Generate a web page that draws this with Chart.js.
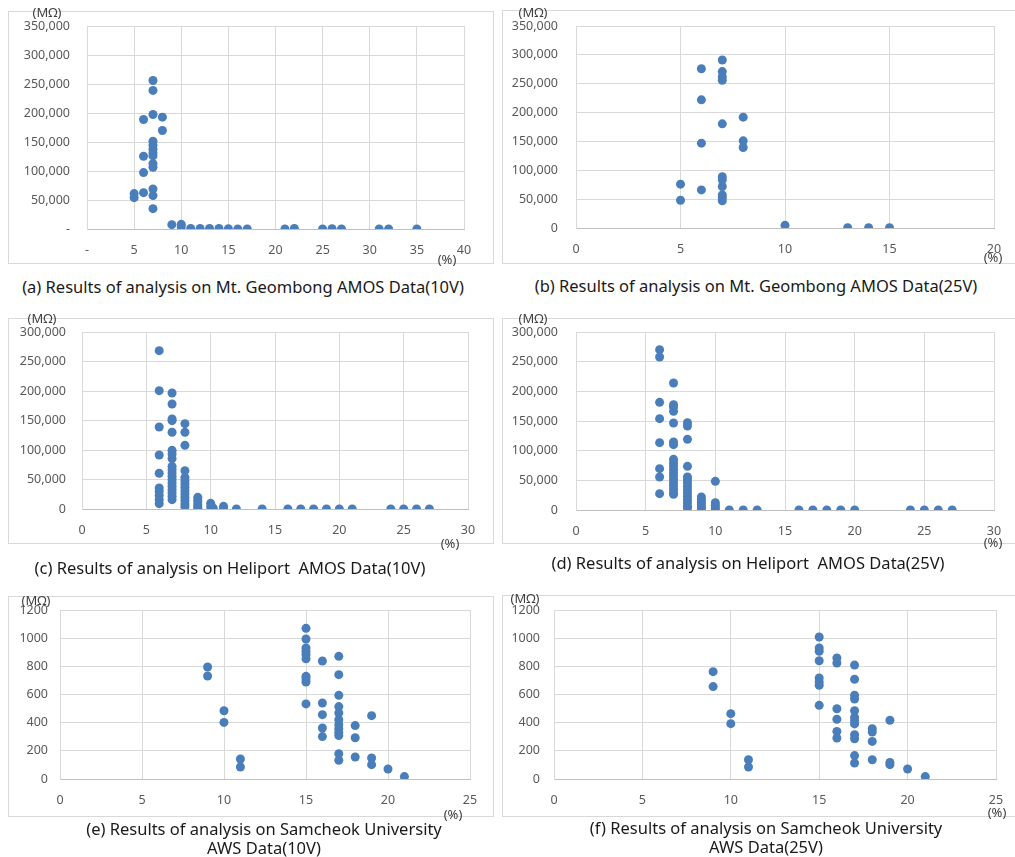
<!DOCTYPE html>
<html>
<head>
<meta charset="utf-8">
<script src="https://cdn.jsdelivr.net/npm/chart.js@4.4.1/dist/chart.umd.min.js"></script>
<style>
  html, body { margin:0; padding:0; background:#fff; }
  body { width:1015px; height:857px; position:relative; overflow:hidden; font-family:"Noto Sans", "DejaVu Sans", sans-serif; }
  .box { position:absolute; border:1px solid #d9d9d9; box-sizing:border-box; }
  canvas { position:absolute; }
  .lbl { position:absolute; transform:translate(-50%,-50%); white-space:nowrap; color:#404040; font-size:13px; line-height:1; }
  .cap { position:absolute; transform:translate(-50%,-50%); white-space:nowrap; color:#1a1a1a; font-size:16.5px; text-align:center; line-height:19px; }
</style>
</head>
<body>
<script>
// ---------- DATA ----------
// (a) Mt. Geombong AMOS 10V
const aX = [5,5,6,6,6,6,7,7,7,7,7,7,7,7,7,7,7,7,7,8,8,9,10,10,11,12,13,14,15,16,17,21,22,25,26,27,31,32,35];
const aY = [61000,54000,62700,97300,125500,188800,256000,239000,197500,151400,144500,137600,131200,126000,112800,106500,69000,57600,35100,192800,169800,7500,8000,3500,1000,1000,1000,1000,500,0,0,0,1000,0,500,0,0,0,0];
// (b) Mt. Geombong AMOS 25V
const bX = [5,5,6,6,6,6,7,7,7,7,7,7,7,7,7,7,7,8,8,8,10,13,14,15];
const bY = [76000,48000,276000,222000,147000,66000,291000,271000,262000,256000,180500,89000,83500,72000,57500,53000,47300,192000,151000,139500,4600,500,500,500];
// (c) Heliport AMOS 10V
const cX = [6,6,6,6,6,6,6,6,6,6, 7,7,7,7,7,7,7,7,7,7,7,7,7,7,7,7,7,7,7, 8,8,8,8,8,8,8,8,8,8,8,8,8,8, 9,9,9,9,9,9, 10,10,10.2, 11,11, 12,14,16,17,18,19,20,21,24,25,26,27];
const cY = [268400,200600,139000,91500,60500,35600,30000,23200,15800,9000, 196600,178000,152500,149700,130000,99400,93200,85300,72300,66700,61000,55400,49700,44000,38400,32800,27100,21500,15800, 144600,130000,107900,65000,53700,48000,42400,36700,31100,25400,19800,14100,8500,4000, 19800,15800,11900,7300,4000,1100, 9600,4000,1500, 4500,0, 0,0,0,0,0,0,0,0,0,0,0,0];
// (d) Heliport AMOS 25V
const dX = [6,6,6,6,6,6,6,6, 7,7,7,7,7,7,7,7,7,7,7,7,7,7,7,7,7,7,7, 8,8,8,8,8,8,8,8,8,8,8,8,8,8,8, 9,9,9,9,9,9, 10,10,10,10,10, 11,12,13,16,17,18,19,20,24,25,26,27];
const dY = [270200,257900,181500,153900,113500,69700,55600,27500, 214000,177500,173600,166300,146600,114600,110100,85400,79800,74200,68500,62900,57300,51700,46100,40400,34800,29200,26400, 147200,141600,119100,73600,55600,51100,45500,39900,34300,28700,23000,17400,11800,6200,3400, 21900,17400,12900,9000,5100,1700, 48300,12400,7900,3900,600, 0,0,0,0,0,0,0,0,0,0,0,0];
// (e) Samcheok University AWS 10V
const eX = [9,9,10,10,11,11, 15,15,15,15,15,15,15,15,15,15, 16,16,16,16,16, 17,17,17,17,17,17,17,17,17,17,17,17, 18,18,18, 19,19,19, 20, 21];
const eY = [795,731,485,402,142,85, 1070,994,930,906,883,854,729,710,689,533, 838,540,457,362,301, 871,741,594,514,469,421,386,357,331,308,180,133, 379,293,156, 450,149,102, 71, 17];
// (f) Samcheok University AWS 25V
const fX = [9,9,10,10,11,11, 15,15,15,15,15,15,15,15, 16,16,16,16,16,16, 17,17,17,17,17,17,17,17,17,17,17,17, 18,18,18,18, 19,19,19, 20, 21];
const fY = [762,656,464,393,137,85, 1008,930,907,840,717,689,665,523, 859,824,499,424,338,291, 809,708,594,568,485,438,414,391,315,286,166,114, 357,334,267,137, 417,118,102, 71, 17];

// axis ranges / tick steps
const xMaxes  = [40, 20, 30, 30, 25, 25];
const xSteps  = [5, 5, 5, 5, 5, 5];
const yMaxes  = [350000, 350000, 300000, 300000, 1200, 1200];
const ySteps  = [50000, 50000, 50000, 50000, 200, 200];
const captions = [
  "(a) Results of analysis on Mt. Geombong AMOS Data(10V)",
  "(b) Results of analysis on Mt. Geombong AMOS Data(25V)",
  "(c) Results of analysis on Heliport&nbsp; AMOS Data(10V)",
  "(d) Results of analysis on Heliport&nbsp; AMOS Data(25V)",
  "(e) Results of analysis on Samcheok University<br>AWS Data(10V)",
  "(f) Results of analysis on Samcheok University<br>AWS Data(25V)"
];
const yUnit = "(MΩ)";
const xUnit = "(%)";

const seriesX = [aX, bX, cX, dX, eX, fX];
const seriesY = [aY, bY, cY, dY, eY, fY];

// ---------- LAYOUT ----------
const layout = [
  {L:87,  T:26,  R:464, B:229, gap:17, dash:true,  comma:true,  box:[8,11,486,253],  mo:[47,12],  pc:[447,259], cap:[243,286]},
  {L:576, T:26,  R:994, B:228, gap:18, dash:false, comma:true,  box:[502,10,530,254], mo:[533,12], pc:[993,257], cap:[756,285]},
  {L:82,  T:332, R:468, B:509, gap:16, dash:false, comma:true,  box:[8,318,486,226],  mo:[42,318], pc:[450,543], cap:[230,567]},
  {L:576, T:332, R:994, B:510, gap:18, dash:false, comma:true,  box:[502,318,530,226],mo:[533,318],pc:[993,542], cap:[748,562]},
  {L:60,  T:610, R:470, B:779, gap:12, dash:false, comma:false, box:[8,596,486,221],  mo:[36,600], pc:[453,814], cap:[264,838]},
  {L:554, T:610, R:996, B:779, gap:14, dash:false, comma:false, box:[502,595,530,222],mo:[525,598], pc:[997,812], cap:[766,837]}
];

function el(tag, cls, css, html){
  const e = document.createElement(tag);
  if (cls) e.className = cls;
  Object.assign(e.style, css);
  if (html !== undefined) e.innerHTML = html;
  document.body.appendChild(e);
  return e;
}

const LEFT = 80, TOP = 12, RIGHT = 20, BOTTOM = 34;

layout.forEach((p, i) => {
  const fmt = v => (v === 0 && p.dash) ? '-' : (p.comma ? v.toLocaleString('en-US') : String(v));
  el('div', 'box', {left:p.box[0]+'px', top:p.box[1]+'px', width:p.box[2]+'px', height:p.box[3]+'px'});
  const cv = el('canvas', null, {left:(p.L-LEFT)+'px', top:(p.T-TOP)+'px'});
  cv.width = p.R - p.L + LEFT + RIGHT;
  cv.height = p.B - p.T + TOP + BOTTOM;
  el('div', 'lbl', {left:p.mo[0]+'px', top:p.mo[1]+'px'}, yUnit);
  el('div', 'lbl', {left:p.pc[0]+'px', top:p.pc[1]+'px'}, xUnit);
  el('div', 'cap', {left:p.cap[0]+'px', top:p.cap[1]+'px'}, captions[i]);

  const data = seriesX[i].map((x, k) => ({x:x, y:seriesY[i][k]}));
  new Chart(cv, {
    type:'scatter',
    data:{ datasets:[{ data:data, backgroundColor:'#4a7ebb', borderWidth:0, pointRadius:4.5, pointHoverRadius:4.5 }] },
    options:{
      responsive:false, animation:false, events:[],
      layout:{ padding:{left:0, top:TOP, right:RIGHT, bottom:0} },
      plugins:{ legend:{display:false}, tooltip:{enabled:false} },
      scales:{
        x:{
          type:'linear', min:0, max:xMaxes[i],
          afterFit: s => { s.height = BOTTOM; s.paddingLeft = 0; s.paddingRight = 0; },
          grid:{ color:'#d9d9d9', lineWidth:1, drawTicks:false },
          border:{ color:'#bfbfbf', width:1 },
          ticks:{ stepSize:xSteps[i], padding:14, color:'#595959', maxRotation:0,
                  font:{family:'"Noto Sans", sans-serif', size:12.5},
                  callback: v => fmt(v) }
        },
        y:{
          type:'linear', min:0, max:yMaxes[i],
          afterFit: s => { s.width = LEFT; s.paddingTop = 0; s.paddingBottom = 0; },
          grid:{ color:'#d9d9d9', lineWidth:1, drawTicks:false },
          border:{ color:'#d9d9d9', width:1 },
          ticks:{ stepSize:ySteps[i], padding:p.gap, color:'#595959',
                  font:{family:'"Noto Sans", sans-serif', size:12.5},
                  callback: v => fmt(v) }
        }
      }
    }
  });
});
</script>
</body>
</html>
